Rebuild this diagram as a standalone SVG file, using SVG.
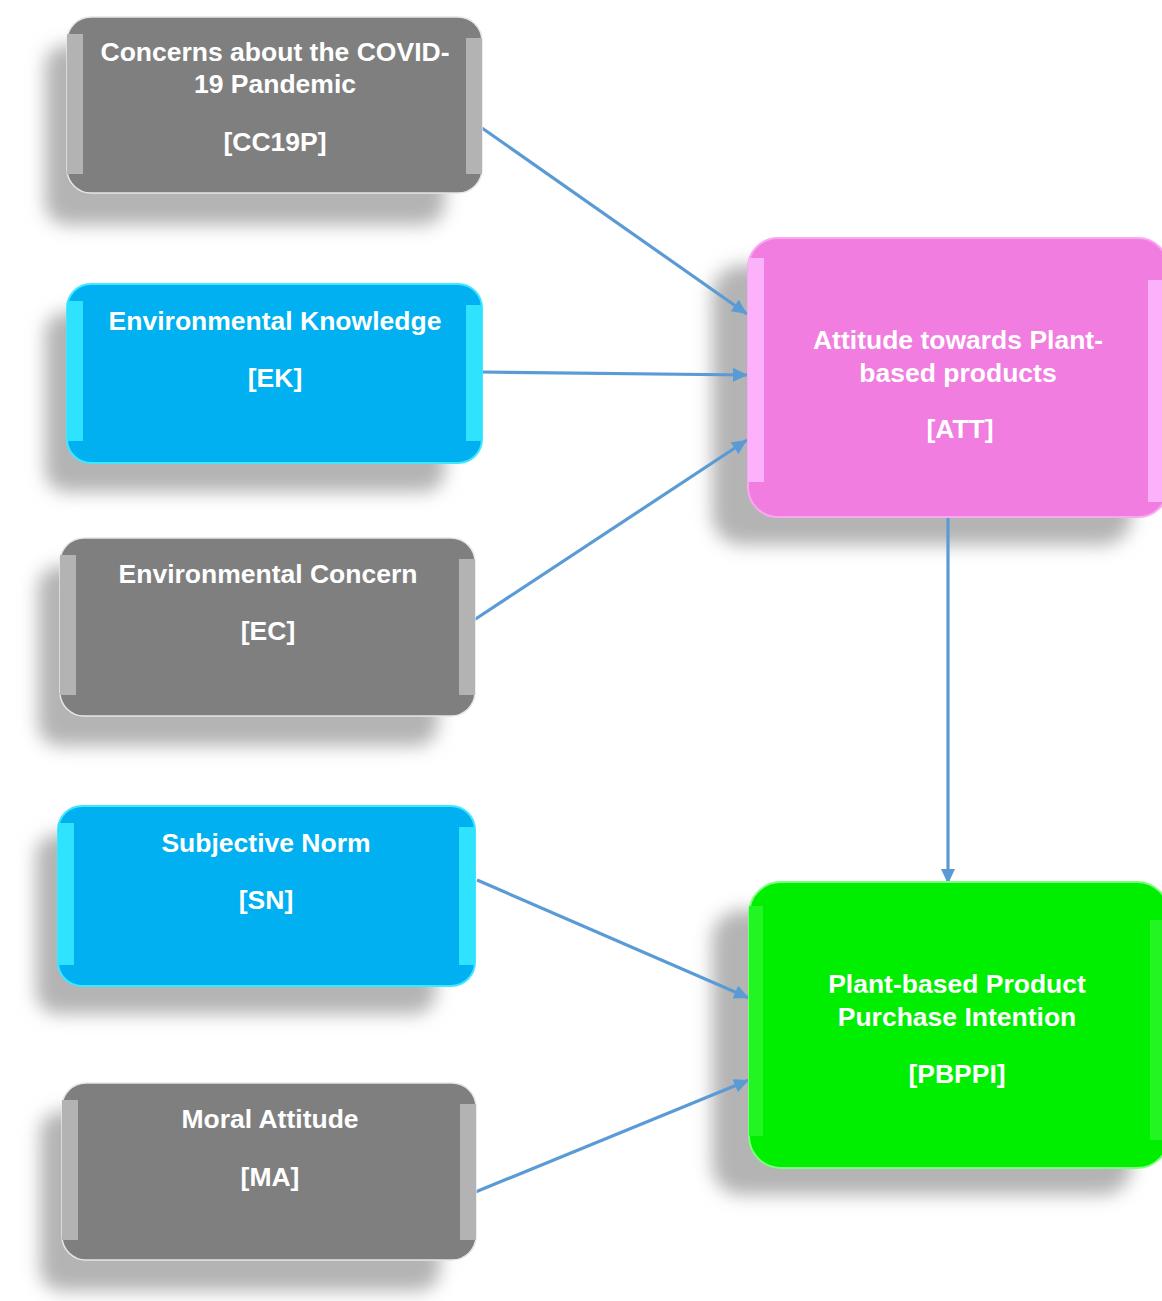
<svg xmlns="http://www.w3.org/2000/svg" width="1162" height="1301" viewBox="0 0 1162 1301">
  <defs>
    <filter id="soft" x="-20%" y="-20%" width="140%" height="140%">
      <feGaussianBlur stdDeviation="9"/>
    </filter>
    <marker id="arrow" markerUnits="userSpaceOnUse" markerWidth="16" markerHeight="14" refX="15" refY="7" orient="auto">
      <path d="M0,0 L15,7 L0,14 Z" fill="#5b9bd5"/>
    </marker>
    <style>
      .shadow { fill: #b4b4b4; filter: url(#soft); }
      .label { font-family: "Liberation Sans", Arial, sans-serif; font-weight: bold; font-size: 26.5px; fill: #ffffff; text-anchor: middle; }
      .gray .face { fill: #7f7f7f; stroke: #e6e6e6; stroke-width: 1.5; }
      .gray .bevel { fill: #b3b3b3; }
      .gray .inner { fill: #7f7f7f; }
      .cyan .face { fill: #00b0f0; stroke: #3ee8ff; stroke-width: 2; }
      .cyan .bevel { fill: #2fe3ff; }
      .cyan .inner { fill: #00b0f0; }
      .pink .face { fill: #f07ddf; stroke: #fba6f3; stroke-width: 2; }
      .pink .bevel { fill: #fcb1fb; }
      .pink .inner { fill: #f07ddf; }
      .green .face { fill: #00ee00; stroke: #7dff7d; stroke-width: 2; }
      .green .bevel { fill: #22f522; }
      .green .inner { fill: #00ee00; }
      .link { stroke: #5b9bd5; stroke-width: 3.2; fill: none; marker-end: url(#arrow); }
    </style>
  </defs>

  <rect width="1162" height="1301" fill="#ffffff"/>

  <!-- Drop shadows (offset down-left, blurred) -->
  <g id="shadows">
    <rect class="shadow" x="45" y="45" width="400" height="180" rx="22"/>
    <rect class="shadow" x="45" y="312" width="400" height="180" rx="22"/>
    <rect class="shadow" x="38" y="566" width="400" height="180" rx="22"/>
    <rect class="shadow" x="36" y="834" width="400" height="180" rx="22"/>
    <rect class="shadow" x="40" y="1111" width="400" height="180" rx="22"/>
    <rect class="shadow" x="712" y="265" width="420" height="280" rx="30"/>
    <rect class="shadow" x="712" y="910" width="420" height="285" rx="30"/>
  </g>

  <!-- Connectors -->
  <g id="connectors">
    <line class="link" x1="482" y1="128" x2="747" y2="314"/>
    <line class="link" x1="481" y1="372" x2="748" y2="375"/>
    <line class="link" x1="474" y1="620" x2="747" y2="440"/>
    <line class="link" x1="948" y1="518" x2="948" y2="884"/>
    <line class="link" x1="477" y1="880" x2="749" y2="998"/>
    <line class="link" x1="473" y1="1193" x2="749" y2="1080"/>
  </g>

  <!-- Concerns about the COVID-19 Pandemic -->
  <g id="node-cc19p" class="gray">
    <rect class="face" x="67" y="17" width="415" height="176" rx="24"/>
    <rect class="bevel" x="67" y="34" width="16" height="140"/>
    <rect class="bevel" x="466" y="38" width="16" height="136"/>
    <rect class="inner" x="83" y="18" width="383" height="174" rx="14"/>
    <text class="label" x="275" y="61">Concerns about the COVID-</text>
    <text class="label" x="275" y="93">19 Pandemic</text>
    <text class="label" x="275" y="151">[CC19P]</text>
  </g>

  <!-- Environmental Knowledge -->
  <g id="node-ek" class="cyan">
    <rect class="face" x="67" y="284" width="415" height="179" rx="24"/>
    <rect class="bevel" x="67" y="301" width="16" height="140"/>
    <rect class="bevel" x="466" y="305" width="16" height="136"/>
    <rect class="inner" x="83" y="285" width="383" height="177" rx="14"/>
    <text class="label" x="275" y="330">Environmental Knowledge</text>
    <text class="label" x="275" y="387">[EK]</text>
  </g>

  <!-- Environmental Concern -->
  <g id="node-ec" class="gray">
    <rect class="face" x="60" y="538" width="415" height="178" rx="24"/>
    <rect class="bevel" x="60" y="555" width="16" height="140"/>
    <rect class="bevel" x="459" y="559" width="16" height="136"/>
    <rect class="inner" x="76" y="539" width="383" height="176" rx="14"/>
    <text class="label" x="268" y="583">Environmental Concern</text>
    <text class="label" x="268" y="640">[EC]</text>
  </g>

  <!-- Subjective Norm -->
  <g id="node-sn" class="cyan">
    <rect class="face" x="58" y="806" width="417" height="180" rx="24"/>
    <rect class="bevel" x="58" y="823" width="16" height="142"/>
    <rect class="bevel" x="459" y="827" width="16" height="138"/>
    <rect class="inner" x="74" y="807" width="385" height="178" rx="14"/>
    <text class="label" x="266" y="852">Subjective Norm</text>
    <text class="label" x="266" y="909">[SN]</text>
  </g>

  <!-- Moral Attitude -->
  <g id="node-ma" class="gray">
    <rect class="face" x="62" y="1083" width="414" height="177" rx="24"/>
    <rect class="bevel" x="62" y="1100" width="16" height="140"/>
    <rect class="bevel" x="460" y="1104" width="16" height="136"/>
    <rect class="inner" x="78" y="1084" width="382" height="175" rx="14"/>
    <text class="label" x="270" y="1128">Moral Attitude</text>
    <text class="label" x="270" y="1186">[MA]</text>
  </g>

  <!-- Attitude towards Plant-based products -->
  <g id="node-att" class="pink">
    <rect class="face" x="748" y="238" width="420" height="279" rx="30"/>
    <rect class="bevel" x="748" y="258" width="16" height="224"/>
    <rect class="bevel" x="1148" y="280" width="14" height="222"/>
    <rect class="inner" x="764" y="239" width="384" height="277" rx="18"/>
    <text class="label" x="958" y="349">Attitude towards Plant-</text>
    <text class="label" x="958" y="382">based products</text>
    <text class="label" x="960" y="438">[ATT]</text>
  </g>

  <!-- Plant-based Product Purchase Intention -->
  <g id="node-pbppi" class="green">
    <rect class="face" x="749" y="882" width="420" height="286" rx="32"/>
    <rect class="bevel" x="749" y="906" width="14" height="230"/>
    <rect class="bevel" x="1150" y="920" width="12" height="220"/>
    <rect class="inner" x="763" y="883" width="387" height="284" rx="20"/>
    <text class="label" x="957" y="993">Plant-based Product</text>
    <text class="label" x="957" y="1026">Purchase Intention</text>
    <text class="label" x="957" y="1083">[PBPPI]</text>
  </g>
</svg>
